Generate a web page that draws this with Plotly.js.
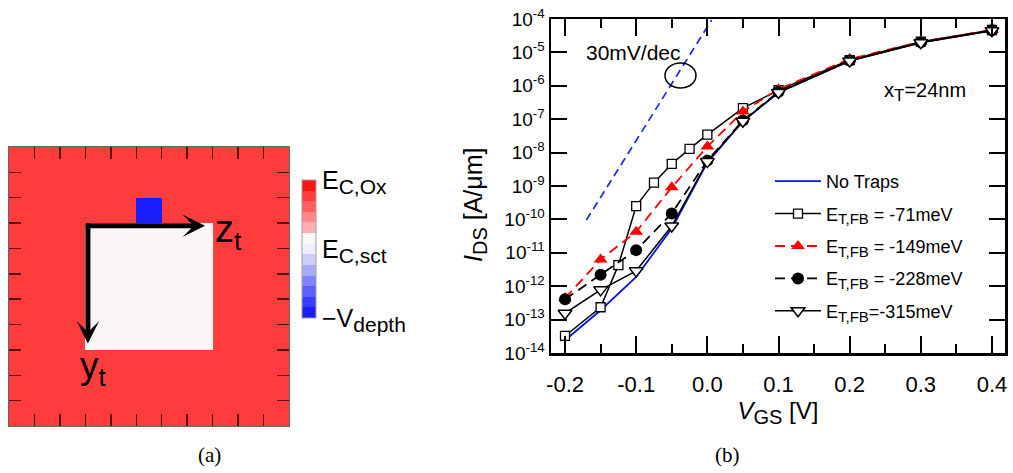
<!DOCTYPE html>
<html>
<head>
<meta charset="utf-8">
<script src="https://cdn.plot.ly/plotly-3.0.1.min.js"></script>
<style>html,body{margin:0;padding:0;background:#fff}#chart{width:1013px;height:473px}</style>
</head>
<body>
<div id="chart"></div>
<script>
// ---------- Panel (a): trap map ----------
const gridSize = 11;
const oxideLevel = 0.77;      // E_C,Ox region (red)
const channelLevel = 0.15;    // E_C,sct region (white)
const trapLevel = -0.92;      // -V_depth (blue trap)
const channelRows = [3, 4, 5, 6, 7];
const channelCols = [3, 4, 5, 6, 7];
const trapCell = [2, 5];      // [row, col]
const cbTickVals = [1, 0, -1];
const sub = (t, px) => '<sub><span style="font-size:' + px + 'px">' + t + '</span></sub>';
const big = (t, px) => '<span style="font-size:' + px + 'px">' + t + '</span>';
const cbTickText = [big('E', 25) + sub('C,Ox', 21), big('E', 25) + sub('C,sct', 21), big('\u2212V', 25) + sub('depth', 21)];
const bandColors = [ // bottom -> top
  'rgb(25,30,255)', 'rgb(55,60,255)', 'rgb(95,95,255)', 'rgb(130,130,255)',
  'rgb(170,170,255)', 'rgb(205,205,255)', 'rgb(238,238,255)', 'rgb(251,245,245)',
  'rgb(255,175,175)', 'rgb(255,135,135)', 'rgb(255,95,95)', 'rgb(255,60,60)', 'rgb(255,20,20)'
];

// ---------- Panel (b): I-V curves ----------
const vgsCommon = [-0.2, -0.15, -0.1, -0.05, 0.0, 0.05, 0.1, 0.2, 0.3, 0.4];
const vgs71 = [-0.2, -0.15, -0.125, -0.1, -0.075, -0.05, -0.025, 0.0, 0.05, 0.1, 0.2, 0.3, 0.4];
const logNoTraps = [-13.62, -12.72, -11.72, -10.27, -8.3, -7.06, -6.2, -5.25, -4.7, -4.34];
const log71 = [-13.49, -12.63, -11.37, -9.6, -8.9, -8.34, -7.89, -7.46, -6.67, -6.13, -5.23, -4.68, -4.33];
const log149 = [-12.36, -11.2, -10.37, -9.04, -7.82, -6.77, -6.1, -5.2, -4.68, -4.33];
const log228 = [-12.39, -11.66, -10.92, -9.82, -8.24, -7.04, -6.18, -5.24, -4.7, -4.34];
const log315 = [-12.81, -12.11, -11.54, -10.2, -8.27, -7.06, -6.2, -5.26, -4.71, -4.35];
const slopeVgs = [-0.17, 0.006];
const slopeLog = [-10.02, -4.03];
const etSub = sub('T,FB', 15);
const seriesNames = ['No Traps', 'E' + etSub + ' = -71meV', 'E' + etSub + ' = -149meV',
                     'E' + etSub + ' = -228meV', 'E' + etSub + '=-315meV'];
const xTickVals = [-0.2, -0.1, 0.0, 0.1, 0.2, 0.3, 0.4];
const xTickText = ['-0.2', '-0.1', '0.0', '0.1', '0.2', '0.3', '0.4'];
const yTickExps = [-14, -13, -12, -11, -10, -9, -8, -7, -6, -5, -4];

const pow10 = a => a.map(v => Math.pow(10, v));

// build trap map matrix
const zMap = [];
for (let r = 0; r < gridSize; r++) {
  const row = [];
  for (let c = 0; c < gridSize; c++) {
    let v = oxideLevel;
    if (channelRows.includes(r) && channelCols.includes(c)) v = channelLevel;
    if (r === trapCell[0] && c === trapCell[1]) v = trapLevel;
    row.push(v);
  }
  zMap.push(row);
}
const nb = bandColors.length;
const colorscale = [];
bandColors.forEach((col, i) => { colorscale.push([i / nb, col]); colorscale.push([(i + 1) / nb, col]); });

const font = 'Liberation Sans, Arial, sans-serif';
const cellEdges = [];
for (let i = 0; i < gridSize - 1; i++) cellEdges.push(i + 0.5);

const traces = [
  {
    type: 'heatmap', z: zMap, xaxis: 'x', yaxis: 'y', zmin: -1, zmax: 1,
    colorscale: colorscale, showscale: true, hoverinfo: 'skip',
    colorbar: {
      x: 301.5 / 1013, xanchor: 'left', xpad: 0, ypad: 0,
      y: 1 - 249 / 473, yanchor: 'middle', lenmode: 'pixels', len: 138,
      thickness: 14, outlinewidth: 1, outlinecolor: '#a0a0a0',
      tickmode: 'array', tickvals: cbTickVals, ticktext: cbTickText,
      ticks: '', ticklabelpad: 5, tickfont: { family: font, size: 25, color: '#000' }
    }
  },
  {
    x: vgsCommon, y: pow10(logNoTraps), name: seriesNames[0], xaxis: 'x2', yaxis: 'y2',
    mode: 'lines', line: { color: '#0a14e6', width: 1.8 }, legendgroup: 'g0'
  },
  {
    x: vgs71, y: pow10(log71), name: seriesNames[1], xaxis: 'x2', yaxis: 'y2',
    mode: 'lines+markers', line: { color: '#000', width: 1.5 },
    marker: { symbol: 'square', size: 9, color: '#fff', line: { color: '#000', width: 1.3 } }, legendgroup: 'g1'
  },
  {
    x: vgsCommon, y: pow10(log149), name: seriesNames[2], xaxis: 'x2', yaxis: 'y2',
    mode: 'lines+markers', line: { color: '#ff0000', width: 1.8, dash: '10px,6px' },
    marker: { symbol: 'triangle-up', size: 12, color: '#ff0000' }, legendgroup: 'g2'
  },
  {
    x: vgsCommon, y: pow10(log228), name: seriesNames[3], xaxis: 'x2', yaxis: 'y2',
    mode: 'lines+markers', line: { color: '#000', width: 1.8, dash: '10px,6px' },
    marker: { symbol: 'circle', size: 12, color: '#000' }, legendgroup: 'g3'
  },
  {
    x: vgsCommon, y: pow10(log315), name: seriesNames[4], xaxis: 'x2', yaxis: 'y2',
    mode: 'lines+markers', line: { color: '#000', width: 1.5 },
    marker: { symbol: 'triangle-down', size: 12, color: '#fff', line: { color: '#000', width: 1.5 } }, legendgroup: 'g4'
  },
  {
    x: slopeVgs, y: pow10(slopeLog), xaxis: 'x2', yaxis: 'y2', showlegend: false,
    mode: 'lines', line: { color: '#1a2be6', width: 1.7, dash: '8px,5px' }, hoverinfo: 'skip'
  }
];

const layout = {
  width: 1013, height: 473,
  margin: { l: 0, r: 0, t: 0, b: 0 },
  paper_bgcolor: '#fff', plot_bgcolor: '#fff',
  font: { family: font, color: '#000' },
  showlegend: true,
  legend: {
    x: 770 / 1013, y: 1 - 163 / 473, xanchor: 'left', yanchor: 'top',
    bgcolor: 'rgba(0,0,0,0)', font: { family: font, size: 18 },
    itemwidth: 46, tracegroupgap: 6
  },
  xaxis: {
    domain: [9 / 1013, 289 / 1013], range: [-0.5, 10.5], anchor: 'y',
    showgrid: false, zeroline: false, showticklabels: false,
    tickmode: 'array', tickvals: cellEdges, ticks: 'inside', ticklen: 12, tickwidth: 1.4,
    tickcolor: 'rgba(50,0,0,0.8)', mirror: 'ticks', showline: true, linecolor: '#666', linewidth: 1
  },
  yaxis: {
    domain: [1 - 426 / 473, 1 - 147 / 473], range: [10.5, -0.5], anchor: 'x',
    showgrid: false, zeroline: false, showticklabels: false,
    tickmode: 'array', tickvals: cellEdges, ticks: 'inside', ticklen: 12, tickwidth: 1.4,
    tickcolor: 'rgba(50,0,0,0.8)', mirror: 'ticks', showline: true, linecolor: '#666', linewidth: 1
  },
  xaxis2: {
    domain: [551 / 1013, 1005 / 1013], range: [-0.2197, 0.4183], anchor: 'y2',
    showgrid: false, zeroline: false,
    tickmode: 'array', tickvals: xTickVals, ticktext: xTickText,
    ticks: 'inside', ticklen: 17, tickwidth: 2, tickcolor: '#000',
    minor: { dtick: 0.05, tick0: 0, ticks: 'inside', ticklen: 9, tickwidth: 2, tickcolor: '#000' },
    mirror: 'ticks', showline: true, linecolor: '#000', linewidth: 2.5,
    ticklabelstandoff: 10,
    tickfont: { family: font, size: 22 },
    title: { text: '<i>V</i>' + sub('GS', 20) + ' [V]', font: { family: font, size: 24 }, standoff: 5 }
  },
  yaxis2: {
    domain: [1 - 353 / 473, 1 - 19 / 473], type: 'log', range: [-14, -4], anchor: 'x2',
    showgrid: false, zeroline: false,
    tickmode: 'array', tickvals: pow10(yTickExps), ticktext: yTickExps.map(e => '10<sup>' + e + '</sup>'),
    ticks: 'inside', ticklen: 16, tickwidth: 2, tickcolor: '#000',
    mirror: 'ticks', showline: true, linecolor: '#000', linewidth: 2.5,
    tickfont: { family: font, size: 19 }
  },
  shapes: [
    {
      type: 'circle', xref: 'paper', yref: 'paper',
      x0: 665 / 1013, x1: 696 / 1013, y0: 1 - 88 / 473, y1: 1 - 63 / 473,
      line: { color: '#000', width: 1.5 }
    }
  ],
  annotations: [
    { xref: 'paper', yref: 'paper', x: 475 / 1013, y: 1 - 205 / 473, xanchor: 'center', yanchor: 'middle',
      textangle: -90, showarrow: false, text: '<i>I</i>' + sub('DS', 20) + ' [A/\u03bcm]',
      font: { family: font, size: 25 } },
    { xref: 'x', yref: 'y', axref: 'x', ayref: 'y', x: 7.2, y: 2.6, ax: 2.45, ay: 2.6,
      showarrow: true, arrowhead: 3, arrowsize: 0.75, arrowwidth: 5, arrowcolor: '#000', text: '' },
    { xref: 'x', yref: 'y', axref: 'x', ayref: 'y', x: 2.6, y: 7.25, ax: 2.6, ay: 2.45,
      showarrow: true, arrowhead: 3, arrowsize: 0.75, arrowwidth: 5, arrowcolor: '#000', text: '' },
    { xref: 'x', yref: 'y', x: 7.5, y: 2.85, xanchor: 'left', yanchor: 'middle', showarrow: false,
      text: 'z<sub>t</sub>', font: { family: font, size: 38 } },
    { xref: 'x', yref: 'y', x: 2.2, y: 8.2, xanchor: 'left', yanchor: 'middle', showarrow: false,
      text: 'y<sub>t</sub>', font: { family: font, size: 37 } },
    { xref: 'paper', yref: 'paper', x: 209 / 1013, y: 1 - 455 / 473, xanchor: 'center', yanchor: 'middle',
      showarrow: false, text: '(a)', font: { family: 'Liberation Serif, Times New Roman, serif', size: 21 } },
    { xref: 'paper', yref: 'paper', x: 727 / 1013, y: 1 - 455 / 473, xanchor: 'center', yanchor: 'middle',
      showarrow: false, text: '(b)', font: { family: 'Liberation Serif, Times New Roman, serif', size: 21 } },
    { xref: 'paper', yref: 'paper', x: 584 / 1013, y: 1 - 52 / 473, xanchor: 'left', yanchor: 'middle',
      showarrow: false, text: '30mV/dec', font: { family: font, size: 21 } },
    { xref: 'paper', yref: 'paper', x: 882 / 1013, y: 1 - 92 / 473, xanchor: 'left', yanchor: 'middle',
      showarrow: false, text: 'x' + sub('T', 17) + '=24nm', font: { family: font, size: 20 } }
  ]
};

Plotly.newPlot('chart', traces, layout, { displayModeBar: false, staticPlot: true });
</script>
</body>
</html>
